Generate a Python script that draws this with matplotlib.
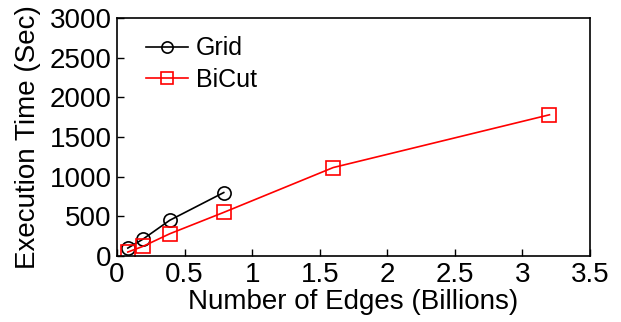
import matplotlib
matplotlib.use("Agg")
import matplotlib.pyplot as plt

plt.rcParams["font.family"] = ["Liberation Sans", "DejaVu Sans"]

# execution time vs. graph size
grid_edges = [0.08, 0.19, 0.39, 0.79]
grid_time = [100, 210, 450, 800]
bicut_edges = [0.08, 0.19, 0.39, 0.79, 1.6, 3.2]
bicut_time = [50, 120, 280, 550, 1115, 1780]

fig = plt.figure(figsize=(6.21, 3.22), dpi=100)
ax = fig.add_axes([117 / 621, 66 / 322, 473 / 621, 238 / 322])

ax.plot(grid_edges, grid_time, "o-", color="black", lw=1.2, ms=9.5,
        mfc="none", mew=1.2, label="Grid")
ax.plot(bicut_edges, bicut_time, "s-", color="red", lw=1.2, ms=9.5,
        mfc="none", mew=1.2, label="BiCut")

ax.set_xlim(0, 3.5)
ax.set_ylim(0, 3000)
ax.set_xticks([0, 0.5, 1, 1.5, 2, 2.5, 3, 3.5])
ax.set_xticklabels(["0", "0.5", "1", "1.5", "2", "2.5", "3", "3.5"])
ax.set_yticks(range(0, 3001, 500))
ax.tick_params(direction="in", labelsize=20, length=5, width=1, pad=4)
ax.set_xlabel("Number of Edges (Billions)", fontsize=20, labelpad=1)
ax.set_ylabel("Execution Time (Sec)", fontsize=20, labelpad=6)
for s in ax.spines.values():
    s.set_linewidth(1.2)

leg = ax.legend(loc="upper left", fontsize=18, frameon=False, handlelength=1.7,
                borderaxespad=0.0, labelspacing=0.3, handletextpad=0.3,
                markerscale=0.85, bbox_to_anchor=(0.04, 0.965))

fig.savefig("out.png", dpi=100)
